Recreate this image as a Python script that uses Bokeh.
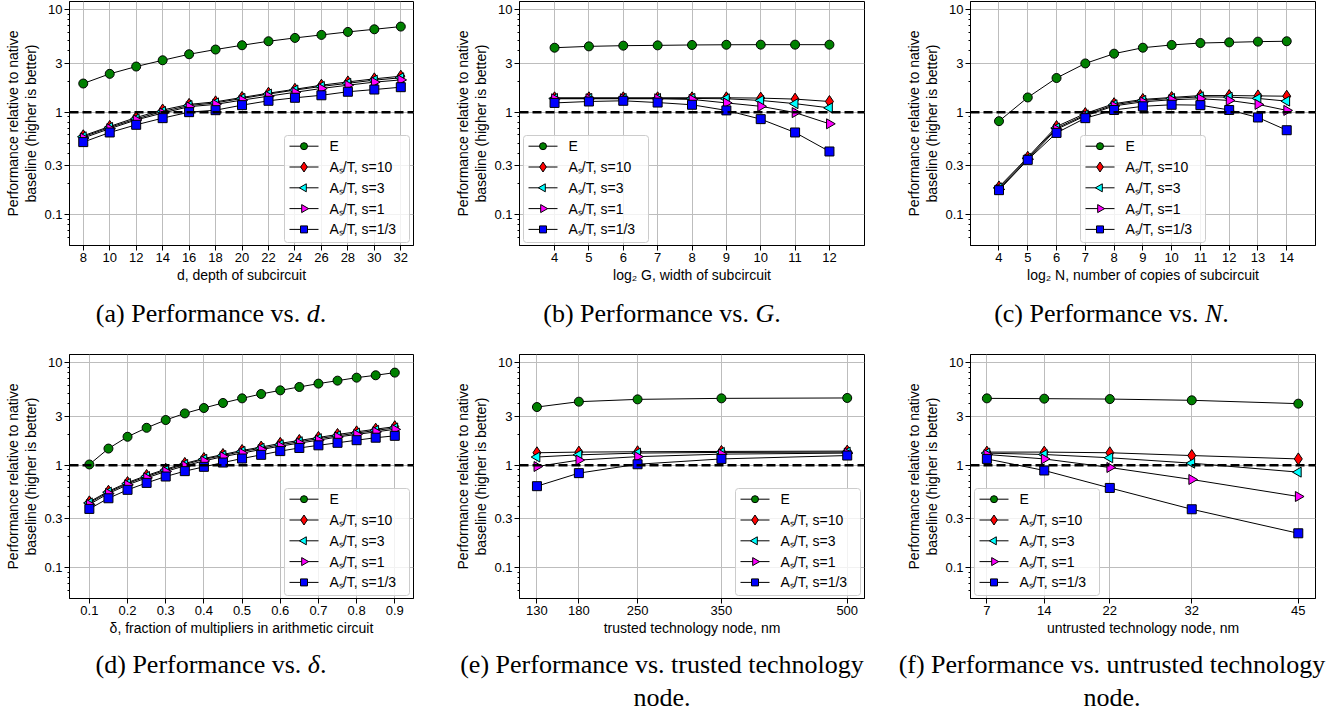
import numpy as np
from bokeh.plotting import figure
from bokeh.models import Range1d, FixedTicker, Span, Div
from bokeh.layouts import row, column
from bokeh.core.properties import value
from bokeh.embed import file_html
from bokeh.resources import INLINE

# ---------------- data ----------------
series_labels = ["E", "Aₛ/T, s=10", "Aₛ/T, s=3", "Aₛ/T, s=1", "Aₛ/T, s=1/3"]
y_ticks = [0.1, 0.3, 1, 3, 10]
y_tick_labels = ["0.1", "0.3", "1", "3", "10"]
y_minor = [0.05, 0.06, 0.07, 0.08, 0.09, 0.2, 0.3, 0.4, 0.5, 0.6, 0.7, 0.8, 0.9,
           2, 3, 4, 5, 6, 7, 8, 9]

# (a) depth of subcircuit
a_x = [8, 10, 12, 14, 16, 18, 20, 22, 24, 26, 28, 30, 32]
a_E = [1.90, 2.36, 2.78, 3.20, 3.66, 4.07, 4.48, 4.90, 5.28, 5.65, 6.04, 6.41, 6.81]
a_s10 = [0.589, 0.726, 0.887, 1.05, 1.19, 1.26, 1.39, 1.53, 1.67, 1.83, 1.97, 2.11, 2.24]
a_s3 = [0.576, 0.71, 0.86, 1.015, 1.16, 1.23, 1.36, 1.50, 1.64, 1.78, 1.91, 2.05, 2.16]
a_s1 = [0.56, 0.69, 0.84, 0.98, 1.13, 1.19, 1.31, 1.43, 1.56, 1.70, 1.83, 1.96, 2.06]
a_s13 = [0.511, 0.634, 0.753, 0.874, 1.0, 1.045, 1.17, 1.29, 1.38, 1.46, 1.58, 1.66, 1.75]
a_ticks = [8, 10, 12, 14, 16, 18, 20, 22, 24, 26, 28, 30, 32]
a_tick_labels = ["8", "10", "12", "14", "16", "18", "20", "22", "24", "26", "28", "30", "32"]

# (b) width of subcircuit
b_x = [4, 5, 6, 7, 8, 9, 10, 11, 12]
b_E = [4.24, 4.37, 4.44, 4.47, 4.51, 4.53, 4.54, 4.54, 4.54]
b_s10 = [1.38, 1.38, 1.38, 1.38, 1.38, 1.38, 1.37, 1.34, 1.27]
b_s3 = [1.36, 1.36, 1.36, 1.36, 1.36, 1.35, 1.30, 1.21, 1.10]
b_s1 = [1.35, 1.35, 1.35, 1.35, 1.33, 1.23, 1.14, 0.99, 0.77]
b_s13 = [1.23, 1.27, 1.29, 1.24, 1.18, 1.04, 0.855, 0.634, 0.414]
b_ticks = [4, 5, 6, 7, 8, 9, 10, 11, 12]
b_tick_labels = ["4", "5", "6", "7", "8", "9", "10", "11", "12"]

# (c) number of copies
c_x = [4, 5, 6, 7, 8, 9, 10, 11, 12, 13, 14]
c_E = [0.817, 1.39, 2.15, 2.98, 3.71, 4.24, 4.51, 4.71, 4.78, 4.86, 4.90]
c_s10 = [0.187, 0.364, 0.725, 0.97, 1.21, 1.33, 1.39, 1.45, 1.45, 1.44, 1.43]
c_s3 = [0.183, 0.355, 0.70, 0.94, 1.18, 1.30, 1.36, 1.41, 1.40, 1.36, 1.28]
c_s1 = [0.177, 0.348, 0.68, 0.92, 1.15, 1.26, 1.32, 1.35, 1.30, 1.19, 1.04]
c_s13 = [0.174, 0.343, 0.628, 0.874, 1.05, 1.14, 1.18, 1.17, 1.05, 0.887, 0.667]
c_ticks = [4, 5, 6, 7, 8, 9, 10, 11, 12, 13, 14]
c_tick_labels = ["4", "5", "6", "7", "8", "9", "10", "11", "12", "13", "14"]

# (d) fraction of multipliers
d_x = [0.1, 0.15, 0.2, 0.25, 0.3, 0.35, 0.4, 0.45, 0.5, 0.55, 0.6, 0.65, 0.7, 0.75, 0.8, 0.85, 0.9]
d_E = [1.015, 1.45, 1.89, 2.31, 2.75, 3.19, 3.60, 4.03, 4.47, 4.93, 5.35, 5.77, 6.22, 6.65, 7.11, 7.50, 7.96]
d_s10 = [0.439, 0.557, 0.677, 0.793, 0.914, 1.04, 1.16, 1.27, 1.39, 1.50, 1.63, 1.74, 1.86, 1.99, 2.11, 2.24, 2.37]
d_s3 = [0.429, 0.545, 0.662, 0.775, 0.894, 1.015, 1.14, 1.24, 1.36, 1.46, 1.58, 1.69, 1.81, 1.93, 2.05, 2.18, 2.30]
d_s1 = [0.414, 0.53, 0.643, 0.752, 0.867, 0.985, 1.10, 1.21, 1.31, 1.42, 1.53, 1.64, 1.75, 1.88, 1.99, 2.11, 2.23]
d_s13 = [0.375, 0.476, 0.575, 0.672, 0.775, 0.874, 0.963, 1.06, 1.16, 1.26, 1.37, 1.47, 1.56, 1.65, 1.75, 1.85, 1.93]
d_ticks = [0.1, 0.2, 0.3, 0.4, 0.5, 0.6, 0.7, 0.8, 0.9]
d_tick_labels = ["0.1", "0.2", "0.3", "0.4", "0.5", "0.6", "0.7", "0.8", "0.9"]

# (e) trusted technology node
e_x = [130, 180, 250, 350, 500]
e_E = [3.68, 4.15, 4.37, 4.47, 4.51]
e_s10 = [1.32, 1.34, 1.35, 1.36, 1.37]
e_s3 = [1.20, 1.26, 1.31, 1.33, 1.34]
e_s1 = [0.97, 1.12, 1.21, 1.28, 1.31]
e_s13 = [0.624, 0.836, 1.02, 1.15, 1.24]
e_ticks = [130, 180, 250, 350, 500]
e_tick_labels = ["130", "180", "250", "350", "500"]

# (f) untrusted technology node
f_x = [7, 14, 22, 32, 45]
f_E = [4.47, 4.44, 4.40, 4.28, 3.97]
f_s10 = [1.34, 1.34, 1.32, 1.24, 1.15]
f_s3 = [1.31, 1.27, 1.18, 1.045, 0.855]
f_s1 = [1.27, 1.15, 0.949, 0.725, 0.495]
f_s13 = [1.15, 0.887, 0.60, 0.372, 0.217]
f_ticks = [7, 14, 22, 32, 45]
f_tick_labels = ["7", "14", "22", "32", "45"]

y_label = "Performance relative to native\nbaseline (higher is better)"

# ---------------- styling ----------------
FONT = "Liberation Sans"
marker_styles = [
    dict(marker="circle", color="#008000", size=9, lsize=7, angle=0.0),
    dict(marker="diamond", color="#ff0000", size=12, lsize=10, angle=0.0),
    dict(marker="triangle", color="#00ffff", size=10, lsize=8, angle=np.pi / 2),
    dict(marker="triangle", color="#ff00ff", size=10, lsize=8, angle=-np.pi / 2),
    dict(marker="square", color="#0000ff", size=9, lsize=7, angle=0.0),
]

YR = (0.0503, 11.95)
FRAME_H = 244


def panel(xs, series, ticks, tick_labels, xr, xlabel, borders, frame_w, height, legend_align):
    left, right, top, bottom = borders
    width = left + frame_w + right
    p = figure(width=width, height=height, x_range=Range1d(*xr), y_range=Range1d(*YR),
               y_axis_type="log", output_backend="svg", toolbar_location=None,
               min_border_left=left, min_border_right=right,
               min_border_top=top, min_border_bottom=bottom)
    p.outline_line_color = "black"
    p.outline_line_width = 1
    p.background_fill_color = "white"
    p.border_fill_color = "white"

    xt = FixedTicker(ticks=ticks)
    p.xaxis.ticker = xt
    p.xgrid.ticker = xt
    p.xaxis.major_label_overrides = {t: l for t, l in zip(ticks, tick_labels)}
    yt = FixedTicker(ticks=y_ticks, minor_ticks=y_minor)
    p.yaxis.ticker = yt
    p.ygrid.ticker = yt
    p.yaxis.major_label_overrides = {t: l for t, l in zip(y_ticks, y_tick_labels)}

    for ax in (p.xaxis, p.yaxis):
        ax.axis_line_color = "black"
        ax.major_tick_line_color = "black"
        ax.major_tick_in = 0
        ax.major_tick_out = 5
        ax.major_label_text_font = FONT
        ax.major_label_text_font_size = "13px"
        ax.major_label_text_color = "black"
        ax.axis_label_text_font = FONT
        ax.axis_label_text_font_size = "14px"
        ax.axis_label_text_font_style = "normal"
        ax.axis_label_text_color = "black"
        ax.major_label_standoff = 2
        ax.axis_label_standoff = 2
    p.yaxis.axis_label_text_line_height = 1.15
    p.xaxis.minor_tick_line_color = None
    p.yaxis.minor_tick_line_color = "black"
    p.yaxis.minor_tick_in = 0
    p.yaxis.minor_tick_out = 2
    p.xaxis.axis_label = xlabel
    p.yaxis.axis_label = y_label

    for g in (p.xgrid, p.ygrid):
        g.grid_line_color = "#bdbdbd"
        g.grid_line_width = 1

    p.add_layout(Span(location=1, dimension="width", line_color="black",
                      line_width=2.5, line_dash="9 4"))

    for ys, st in zip(series, marker_styles):
        p.line(xs, ys, line_color="black", line_width=1)
        p.scatter(xs, ys, marker=st["marker"], size=st["size"], angle=st["angle"],
                  fill_color=st["color"], line_color="black", line_width=1)

    # legend box, placed in frame pixels and converted through the axes' scales
    W, H = frame_w, FRAME_H
    bw, bh = 125, 107
    if legend_align == "right":
        bl = W - 4 - bw
    elif legend_align == "left":
        bl = 4
    else:
        bl = (W - bw) / 2.0
    bt = H - 3 - bh
    ly0, ly1 = np.log10(YR[0]), np.log10(YR[1])

    def X(px):
        return xr[0] + px / W * (xr[1] - xr[0])

    def Y(py):
        return 10 ** (ly1 - py / H * (ly1 - ly0))

    p.quad(left=[X(bl)], right=[X(bl + bw)], top=[Y(bt)], bottom=[Y(bt + bh)],
           fill_color="white", fill_alpha=0.8, line_color="#cccccc", line_width=1,
           border_radius=3)
    for i, (lab, st) in enumerate(zip(series_labels, marker_styles)):
        cy = Y(bt + 10.7 + i * 20.8)
        p.line([X(bl + 5), X(bl + 34)], [cy, cy], line_color="black", line_width=1)
        p.scatter([X(bl + 19.5)], [cy], marker=st["marker"], size=st["lsize"], angle=st["angle"],
                  fill_color=st["color"], line_color="black", line_width=1)
        p.text([X(bl + 45)], [cy], text=[lab], text_font=value(FONT), text_font_size="14px",
               text_color="black", text_baseline="middle", text_align="left")
    return p


ROW1_H, ROW2_H = 290, 300

pa = panel(a_x, [a_E, a_s10, a_s3, a_s1, a_s13], a_ticks, a_tick_labels, (6.96, 32.96),
           "d, depth of subcircuit", (69, 38, 1, 45), 344, ROW1_H, "right")
pb = panel(b_x, [b_E, b_s10, b_s3, b_s1, b_s13], b_ticks, b_tick_labels, (2.98, 13.02),
           "log₂ G, width of subcircuit", (68, 38, 1, 45), 345, ROW1_H, "left")
pc = panel(c_x, [c_E, c_s10, c_s3, c_s1, c_s13], c_ticks, c_tick_labels, (3.01, 15.0),
           "log₂ N, number of copies of subcircuit", (68, 28, 1, 45), 345, ROW1_H, "center")
pd = panel(d_x, [d_E, d_s10, d_s3, d_s1, d_s13], d_ticks, d_tick_labels, (0.048, 0.949),
           "δ, fraction of multipliers in arithmetic circuit", (69, 38, 14, 42), 344, ROW2_H, "right")
pe = panel(e_x, [e_E, e_s10, e_s3, e_s1, e_s13], e_ticks, e_tick_labels, (109.2, 520.6),
           "trusted technology node, nm", (68, 38, 14, 42), 345, ROW2_H, "right")
pf = panel(f_x, [f_E, f_s10, f_s3, f_s1, f_s13], f_ticks, f_tick_labels, (5.0, 47.1),
           "untrusted technology node, nm", (68, 28, 14, 42), 345, ROW2_H, "left")


def caption_div(entries, height, top):
    inner = ""
    for html, center, w in entries:
        left = center - w / 2.0
        inner += ('<div style="position:absolute;left:%.1fpx;top:%dpx;width:%dpx;'
                  'text-align:center;white-space:nowrap">%s</div>' % (left, top, w, html))
    text = ('<div style="position:relative;width:1343px;height:%dpx;'
            'font-family:\'Liberation Serif\',serif;font-size:26px;line-height:33px;color:#000">%s</div>'
            % (height, inner))
    return Div(text=text, width=1343, height=height, margin=(0, 0, 0, 0))


cap1 = caption_div([
    ("(a) Performance vs. <i>d</i>.", 211, 400),
    ("(b) Performance vs. <i>G</i>.", 662, 440),
    ("(c) Performance vs. <i>N</i>.", 1111.5, 440),
], 50, 7)
cap2 = caption_div([
    ("(d) Performance vs. <i>δ</i>.", 211, 400),
    ("(e) Performance vs. trusted technology<br>node.", 662, 440),
    ("(f) Performance vs. untrusted technology<br>node.", 1112, 440),
], 74, 8)

layout = column(row(pa, pb, pc), cap1, row(pd, pe, pf), cap2)
open("out.html", "w").write(file_html(layout, INLINE))
